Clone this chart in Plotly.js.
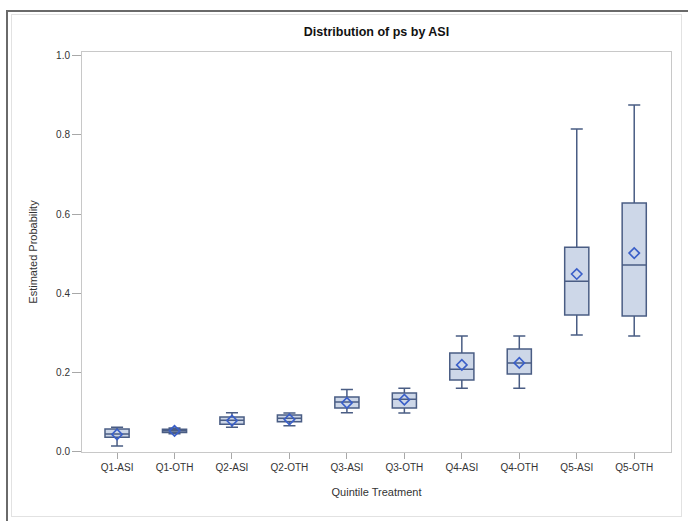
<!DOCTYPE html>
<html>
<head>
<meta charset="utf-8">
<script src="https://cdn.plot.ly/plotly-3.0.1.min.js"></script>
<style>
  html, body { margin: 0; padding: 0; background: #fff; }
  #wrap { position: relative; width: 688px; height: 521px; overflow: hidden; }
  #chart { position: absolute; left: 0; top: 0; width: 688px; height: 521px; }
  #outer { position: absolute; left: 6px; top: 10px; width: 700px; height: 600px;
           border-top: 2px solid #6a6a6a; border-left: 2px solid #6a6a6a; pointer-events: none; }
  #inner { position: absolute; left: 11px; top: 14px; width: 669px; height: 501px;
           border: 1px solid #e2e2e2; pointer-events: none; }
</style>
</head>
<body>
<div id="wrap">
  <div id="chart"></div>
  <div id="outer"></div>
  <div id="inner"></div>
</div>
<script>
const categories = ["Q1-ASI","Q1-OTH","Q2-ASI","Q2-OTH","Q3-ASI","Q3-OTH","Q4-ASI","Q4-OTH","Q5-ASI","Q5-OTH"];
const lowerWhisker = [0.013, 0.044, 0.060, 0.064, 0.097, 0.096, 0.159, 0.159, 0.294, 0.291];
const q1Values     = [0.035, 0.047, 0.068, 0.074, 0.109, 0.109, 0.180, 0.195, 0.344, 0.342];
const medianValues = [0.043, 0.051, 0.078, 0.083, 0.124, 0.131, 0.207, 0.223, 0.430, 0.471];
const q3Values     = [0.056, 0.055, 0.086, 0.091, 0.137, 0.147, 0.248, 0.258, 0.516, 0.628];
const upperWhisker = [0.060, 0.058, 0.097, 0.096, 0.156, 0.159, 0.291, 0.291, 0.815, 0.876];
const meanValues   = [0.042, 0.051, 0.077, 0.080, 0.122, 0.130, 0.218, 0.223, 0.448, 0.501];
const yTicks = [0.0, 0.2, 0.4, 0.6, 0.8, 1.0];

const boxTrace = {
  type: "box",
  x: categories,
  q1: q1Values,
  median: medianValues,
  q3: q3Values,
  lowerfence: lowerWhisker,
  upperfence: upperWhisker,
  fillcolor: "#cdd7e8",
  line: { color: "#4a5d84", width: 1.5 },
  whiskerwidth: 0.5,
  width: 0.42,
  boxpoints: false,
  hoverinfo: "skip",
  showlegend: false
};

const meanTrace = {
  type: "scatter",
  mode: "markers",
  x: categories,
  y: meanValues,
  marker: { symbol: "diamond-open", size: 8, color: "#3a5fc8", line: { width: 1.6, color: "#3a5fc8" } },
  hoverinfo: "skip",
  showlegend: false
};

const layout = {
  width: 688, height: 521,
  margin: { l: 82, r: 17, t: 52, b: 69 },
  paper_bgcolor: "#ffffff",
  plot_bgcolor: "#ffffff",
  font: { family: "Liberation Sans, Arial, sans-serif", size: 10, color: "#333" },
  title: {
    text: "<b>Distribution of ps by ASI</b>",
    font: { family: "Liberation Sans, Arial, sans-serif", size: 12.5, color: "#111" },
    xref: "paper", x: 0.5, xanchor: "center",
    yref: "container", y: 1 - 32/521, yanchor: "middle"
  },
  xaxis: {
    type: "category",
    range: [-0.61, 9.64],
    showgrid: false, zeroline: false,
    showline: true, linecolor: "#c8c8c8", linewidth: 1, mirror: true,
    ticks: "outside", ticklen: 6, tickcolor: "#a8a8a8",
    tickfont: { size: 10, color: "#333" },
    title: { text: "Quintile Treatment", font: { size: 11, color: "#333" }, standoff: 16 },
    automargin: false
  },
  yaxis: {
    range: [-0.0025, 1.0101],
    tickvals: yTicks,
    tickformat: ".1f",
    showgrid: false, zeroline: false,
    showline: true, linecolor: "#c8c8c8", linewidth: 1, mirror: true,
    ticks: "outside", ticklen: 9, tickcolor: "#a8a8a8",
    tickfont: { size: 10, color: "#333" },
    title: { text: "Estimated Probability", font: { size: 11, color: "#333" }, standoff: 16 },
    automargin: false
  }
};

Plotly.newPlot("chart", [boxTrace, meanTrace], layout, { displayModeBar: false, staticPlot: true });
</script>
</body>
</html>
